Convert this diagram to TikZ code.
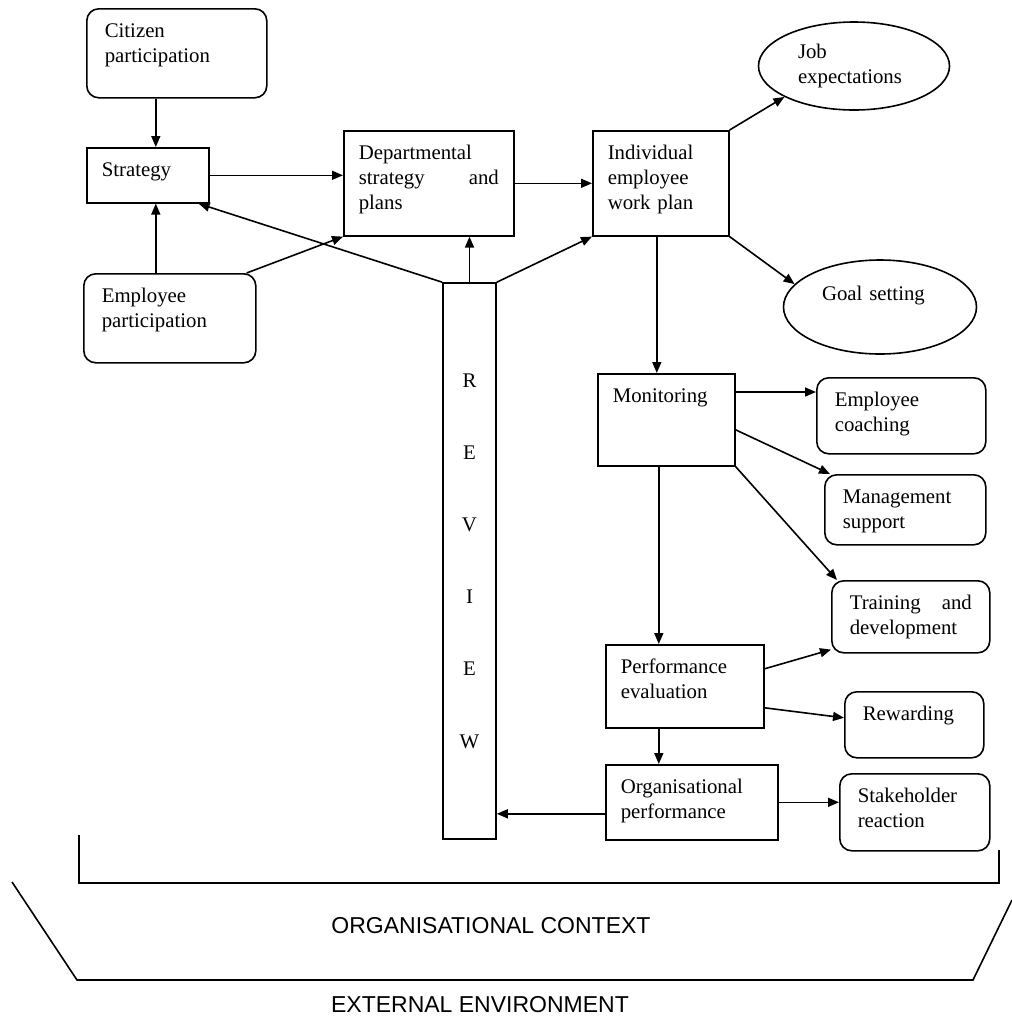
\documentclass[tikz,border=0pt]{standalone}
\usepackage{fontspec}
\setmainfont{Liberation Serif}
\setsansfont{Liberation Sans}
\usetikzlibrary{arrows.meta,shapes.geometric}

\begin{document}
\begin{tikzpicture}[
    x=0.5pt, y=-0.5pt,
    every node/.style={font=\fontsize{10.4}{12.5}\selectfont},
    box/.style={draw, line width=0.8pt, anchor=north west, inner ysep=0pt, align=left, text height=14.5pt},
    stage/.style 2 args={box, inner xsep=7.5pt, text width={\dimexpr#1-15pt\relax}, text depth={\dimexpr#2-14.5pt\relax}},
    factor/.style 2 args={box, rounded corners=6pt, inner xsep=9pt, text width={\dimexpr#1-18pt\relax}, text depth={\dimexpr#2-14.5pt\relax}},
    aim/.style={draw, ellipse, line width=0.8pt, align=left},
    context/.style={font=\fontsize{11.5}{14}\sffamily},
    flow/.style={-{Triangle[length=5.5pt,width=4.5pt]}, line width=0.8pt},
    frame/.style={line width=0.8pt}
]
\useasboundingbox (0,0) rectangle (1012,1019);
\node[factor={90pt}{44.5pt}] (citizen) at (86,8) {Citizen\\participation};
\node[stage={61pt}{27.5pt}] (strategy) at (86,147) {Strategy};
\node[factor={86pt}{44.5pt}] (employee) at (83,273) {Employee\\participation};
\node[stage={85pt}{52.5pt}] (dept) at (343,130) {Departmental\\strategy \hfill and\\plans};
\node[stage={68pt}{52.5pt}] (indiv) at (592,130) {Individual\\employee\\work plan};
\node[aim, minimum width=95.5pt, minimum height=44pt, text width=56pt] (job) at (854,66) {Job\\expectations};
\node[aim, minimum width=96.5pt, minimum height=47pt, text width=58pt, text depth=14pt] (goal) at (880,307) {Goal setting};
\node[draw, line width=0.8pt, minimum width=26.5pt, minimum height=278pt, inner sep=0pt, align=center,
      font=\fontsize{10.4}{36.1}\selectfont] (review) at (469.5,561) {R\\E\\V\\I\\E\\W};
\node[stage={68.5pt}{46pt}] (monitor) at (597,373) {Monitoring};
\node[factor={84.5pt}{38pt}] (coach) at (816,377) {Employee\\coaching};
\node[factor={80.5pt}{35pt}] (mgmt) at (824,474) {Management\\support};
\node[factor={79pt}{36pt}] (training) at (831,580) {Training \hfill and\\development};
\node[stage={79pt}{41.5pt}] (perf) at (605,644) {Performance\\evaluation};
\node[factor={69.5pt}{33pt}] (reward) at (844,691) {Rewarding};
\node[stage={86pt}{37.5pt}] (orgperf) at (605,764) {Organisational\\performance};
\node[factor={75pt}{38.5pt}] (stake) at (839,773) {Stakeholder\\reaction};
\node[context] (orgctx) at (491,926) {ORGANISATIONAL CONTEXT};
\node[context] (extenv) at (480,1005) {EXTERNAL ENVIRONMENT};
\draw[flow] ([xshift=4pt]strategy.north |- citizen.south) -- ([xshift=4pt]strategy.north);
\draw[flow] ([xshift=4pt]strategy.south |- employee.north) -- ([xshift=4pt]strategy.south);
\draw[flow] (strategy.east) -- (strategy.east -| dept.west);
\draw[flow] ([xshift=-5pt]employee.north east) -- (dept.south west);
\draw[flow] (review.north west) -- ([xshift=-5.5pt]strategy.south east);
\draw[flow] (review.north) -- (review.north |- dept.south);
\draw[flow] (review.north east) -- (indiv.south west);
\draw[flow] (dept.east) -- (dept.east -| indiv.west);
\draw[flow] (indiv.north east) -- (job.204);
\draw[flow] (indiv.south east) -- (goal.165);
\draw[flow] ([xshift=-2pt]indiv.south) -- ([xshift=-2pt]indiv.south |- monitor.north);
\draw[flow] ([yshift=-9.5pt]monitor.north east) -- ([yshift=-9.5pt]monitor.north east -| coach.west);
\draw[flow] ([yshift=-5pt]monitor.east) -- ([xshift=3pt]mgmt.north west);
\draw[flow] (monitor.south east) -- ([xshift=3pt]training.north west);
\draw[flow] ([xshift=-3.75pt]monitor.south) -- ([xshift=-3.75pt]monitor.south |- perf.north);
\draw[flow] ([yshift=8.75pt]perf.east) -- ([yshift=2pt]training.south west);
\draw[flow] ([yshift=-10.75pt]perf.east) -- ([yshift=3.5pt]reward.west);
\draw[flow] ([xshift=-13pt]perf.south) -- ([xshift=-13pt]perf.south |- orgperf.north);
\draw[flow] ([yshift=-5.75pt]orgperf.west) -- ([yshift=-5.75pt]orgperf.west -| review.east);
\draw[flow] (orgperf.east) -- (orgperf.east -| stake.west);
\draw[frame] (79,835) -- (79,883) -- (999,883) -- (999,850);
\draw[frame] (12,882) -- (77,980) -- (973,980) -- (1012,900);
\end{tikzpicture}
\end{document}
